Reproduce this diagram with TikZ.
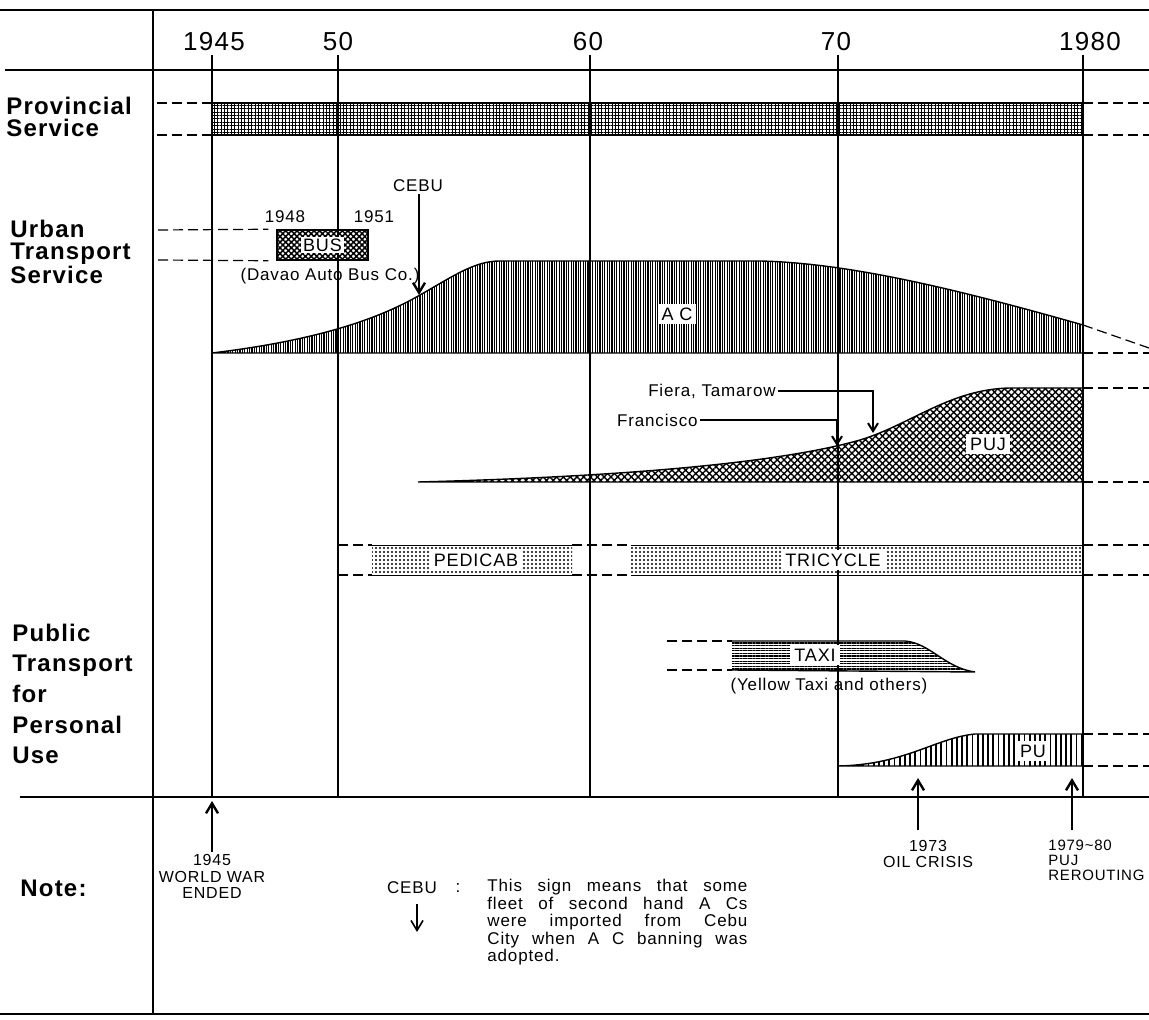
\documentclass[tikz,border=0pt]{standalone}
\usepackage{fontspec}
\setmainfont{Liberation Sans}[LetterSpace=5]
\usetikzlibrary{arrows.meta, positioning, calc, patterns.meta}
\tikzset{
  rowlabel/.style={font=\fontsize{12}{11}\selectfont\bfseries, align=left, anchor=west, inner sep=0pt},
  yearlabel/.style={font=\fontsize{13}{14}\selectfont, inner sep=1pt},
  frameline/.style={line width=0.9pt},
  yearline/.style={line width=0.9pt},
  stub/.style={dash pattern=on 5pt off 2.5pt, line width=0.6pt},
  shapeline/.style={line width=0.7pt},
  tag/.style={fill=white, inner sep=2pt, font=\fontsize{9}{10}\selectfont},
  smalltext/.style={font=\fontsize{8.5}{10}\selectfont, inner sep=1pt},
  eventlabel/.style={font=\fontsize{8}{7.8}\selectfont, align=center, inner sep=1pt},
  notebody/.style={font=\fontsize{8.5}{8.75}\selectfont, text width=130pt, align=justify, anchor=north west, inner sep=0pt},
  pointer/.style={-{Straight Barb[length=5pt,width=6pt]}, line width=1.2pt},
  leader/.style={-{Straight Barb[length=4pt,width=5pt]}, line width=1pt},
  provfill/.style={pattern={Hatch[angle=0,distance=1.7pt,line width=0.5pt]}},
  busfill/.style={pattern={Hatch[angle=45,distance=2pt,line width=0.75pt]}},
  acfill/.style={pattern={Lines[angle=90,distance=1.2pt,line width=0.6pt]}},
  pujfill/.style={pattern={Hatch[angle=45,distance=2.4pt,line width=0.7pt]}},
  cabfill/.style={pattern={Dots[distance=2pt,radius=0.55pt]}},
  taxifill/.style={pattern={Lines[angle=0,distance=1.3pt,line width=0.55pt]}},
  pufill/.style={pattern={Lines[angle=90,distance=2.6pt,line width=0.9pt]}}
}
\begin{document}
\begin{tikzpicture}[x=0.5pt, y=-0.5pt, node distance=4pt]
    \useasboundingbox (0,0) rectangle (1149,1020);

    \draw[frameline] (0,10) -- (1149,10);
    \draw[frameline] (5,70) -- (1149,70);
    \draw[frameline] (20,797) -- (1149,797);
    \draw[frameline] (0,1014) -- (1149,1014);
    \draw[frameline] (153,10) -- (153,1014);

    \node[yearlabel] (yr45) at (214,42) {1945};
    \node[yearlabel] (yr50) at (338,42) {50};
    \node[yearlabel] (yr60) at (588,42) {60};
    \node[yearlabel] (yr70) at (836,42) {70};
    \node[yearlabel] (yr80) at (1090,42) {1980};
    \foreach \x in {212,338,590,838,1083}
      \draw[yearline] (\x,55) -- (\x,797);

    \node[rowlabel] (provincial) at (6,117) {Provincial\\Service};
    \node[rowlabel] (urban) at (10,252) {Urban\\Transport\\Service};
    \node[rowlabel, font=\fontsize{12}{15.3}\selectfont\bfseries] (public) at (12,694) {Public\\Transport\\for\\Personal\\Use};
    \node[rowlabel] (note) at (20,888) {Note:};

    \draw[shapeline, provfill] (212,103) rectangle (1083,135);
    \foreach \y in {103,135} {
      \draw[stub] (157,\y) -- (212,\y);
      \draw[stub] (1083,\y) -- (1149,\y);
    }

    \node[draw, shapeline, busfill, minimum width=45.5pt, minimum height=15pt, inner sep=0pt] (bus) at (322.5,245) {};
    \node[tag, inner sep=1pt] (bustag) at (bus) {BUS};
    \node[smalltext] (bus48) at (285,217) {1948};
    \node[smalltext] (bus51) at (374,217) {1951};
    \node[smalltext] (davao) at (330,276) {(Davao Auto Bus Co.)};
    \draw[stub] (158,230) -- ([xshift=-4pt]bus.north west);
    \draw[stub] (158,260) -- ([xshift=-4pt]bus.south west);

    \draw[shapeline, acfill] (212,353) .. controls (320,340) and (380,318) .. (420,295)
      .. controls (455,275) and (475,261) .. (500,261) -- (760,261)
      .. controls (850,263) and (960,290) .. (1083,325) -- (1083,353) -- cycle;
    \node[tag] (actag) at (677,314) {A C};
    \draw[stub] (1083,325) -- (1149,348);
    \draw[stub] (1083,353) -- (1149,353);
    \node[smalltext] (cebu) at (418,186) {CEBU};
    \coordinate (cebutip) at (419,295);
    \draw[pointer] (cebu.south -| cebutip) -- (cebutip);

    \draw[shapeline, pujfill] (418,482) .. controls (650,476) and (790,460) .. (860,440)
      .. controls (910,425) and (950,389) .. (1010,388) -- (1083,388) -- (1083,482) -- cycle;
    \node[tag] (pujtag) at (988,444) {PUJ};
    \node[smalltext, anchor=east] (fiera) at (778,391) {Fiera, Tamarow};
    \node[smalltext, anchor=east] (francisco) at (700,420) {Francisco};
    \coordinate (fieratip) at (873,433);
    \coordinate (franciscotip) at (837,446);
    \draw[leader] (fiera.east) -| (fieratip);
    \draw[leader] (francisco.east) -| (franciscotip);
    \draw[stub] (1083,388) -- (1149,388);
    \draw[stub] (1083,482) -- (1149,482);

    \fill[cabfill] (372,545) rectangle (572,575);
    \fill[cabfill] (631,545) rectangle (1083,575);
    \foreach \y in {545,575} {
      \draw[shapeline, line width=0.5pt] (372,\y) -- (572,\y);
      \draw[shapeline, line width=0.5pt] (631,\y) -- (1083,\y);
      \draw[stub] (338,\y) -- (372,\y);
      \draw[stub] (572,\y) -- (631,\y);
      \draw[stub] (1083,\y) -- (1149,\y);
    }
    \node[tag] (pedicab) at (476,560) {PEDICAB};
    \node[tag] (tricycle) at (833,560) {TRICYCLE};

    \fill[taxifill] (732,641) -- (905,641) .. controls (930,643) and (945,668) .. (975,672) -- (732,670) -- cycle;
    \draw[shapeline] (732,641) -- (905,641) .. controls (930,643) and (945,668) .. (975,672) -- (732,670);
    \draw[stub] (667,641) -- (732,641);
    \draw[stub] (667,670) -- (732,670);
    \node[tag] (taxitag) at (815,655) {TAXI};
    \node[smalltext] (yellowtaxi) at (829,686) {(Yellow Taxi and others)};

    \draw[shapeline, pufill] (837,766) .. controls (905,765) and (935,738) .. (975,734) -- (1083,734) -- (1083,766) -- cycle;
    \node[tag] (putag) at (1033,751) {PU};
    \draw[stub] (1083,734) -- (1149,734);
    \draw[stub] (1083,766) -- (1149,766);

    \node[eventlabel, font=\fontsize{8}{8.25}\selectfont, anchor=north] (worldwar) at (212,852) {1945\\WORLD WAR\\ENDED};
    \coordinate (wwtip) at (212,801);
    \draw[pointer] (worldwar.north) -- (wwtip);
    \node[eventlabel, anchor=north] (oilcrisis) at (928,838) {1973\\OIL CRISIS};
    \coordinate (oiltip) at (918,778);
    \draw[pointer] ([yshift=4pt]oilcrisis.north -| oiltip) -- (oiltip);
    \node[eventlabel, font=\fontsize{7.5}{7.5}\selectfont, align=left, anchor=north west] (rerouting) at (1046,838) {1979\textasciitilde 80\\PUJ\\REROUTING};
    \coordinate (rertip) at (1072,778);
    \draw[pointer] ([yshift=4pt]rerouting.north -| rertip) -- (rertip);

    \node[smalltext] (cebukey) at (412,888) {CEBU};
    \node[smalltext, right=7pt of cebukey] (colon) {:};
    \coordinate (cebukeytip) at (417,932);
    \draw[pointer, line width=0.8pt] ([yshift=-4pt]cebukey.south -| cebukeytip) -- (cebukeytip);
    \node[notebody] (notetext) at (487,879) {This sign means that some\linebreak fleet of second hand A Cs\linebreak were imported from Cebu\linebreak City when A C banning was\linebreak adopted.};
\end{tikzpicture}
\end{document}
